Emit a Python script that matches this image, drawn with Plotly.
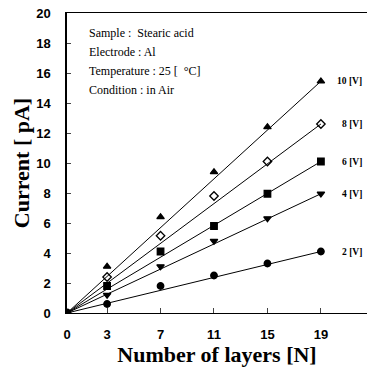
import plotly.graph_objects as go

layers = [3, 7, 11, 15, 19]
x_ticks = [0, 3, 7, 11, 15, 19]
y_ticks = [0, 2, 4, 6, 8, 10, 12, 14, 16, 18, 20]

series_names = ["10 [V]", "8 [V]", "6 [V]", "4 [V]", "2 [V]"]
v10 = [3.1, 6.4, 9.4, 12.4, 15.45]
v8 = [2.4, 5.15, 7.8, 10.1, 12.6]
v6 = [1.8, 4.1, 5.8, 7.95, 10.1]
v4 = [1.2, 3.1, 4.8, 6.3, 7.95]
v2 = [0.6, 1.8, 2.5, 3.3, 4.1]
all_values = [v10, v8, v6, v4, v2]
symbols = ["triangle-up", "diamond-open", "square", "triangle-down", "circle"]

info_lines = ["Sample :  Stearic acid", "Electrode : Al",
              "Temperature : 25 [  \u00b0C]", "Condition : in Air"]

fig = go.Figure()

# fitted lines through origin to last point
for vals in all_values:
    fig.add_trace(go.Scatter(x=[0, layers[-1]], y=[0, vals[-1]], mode="lines",
                             line=dict(color="black", width=1), showlegend=False,
                             hoverinfo="skip"))

for name, vals, sym in zip(series_names, all_values, symbols):
    fig.add_trace(go.Scatter(x=layers, y=vals, mode="markers", name=name,
                             marker=dict(symbol=sym, size=6.5, color="black",
                                         line=dict(color="black", width=1.3)),
                             showlegend=False))

fig.add_trace(go.Scatter(x=[0], y=[0], mode="markers",
                         marker=dict(symbol="circle", size=9, color="black"),
                         showlegend=False))

for name, vals in zip(series_names, all_values):
    fig.add_annotation(x=22.2, y=vals[-1], xref="x", yref="y", text="<b>%s</b>" % name,
                       showarrow=False, xanchor="right", yanchor="middle",
                       font=dict(family="Liberation Serif", size=9.5, color="black"))

plot_l, plot_r, plot_t, plot_b = 67, 367, 13, 313
for i, line in enumerate(info_lines):
    px, py = 87, 33 + 19 * i
    fig.add_annotation(x=(px - plot_l) / (plot_r - plot_l), y=(plot_b - py) / (plot_b - plot_t),
                       xref="x domain", yref="y domain", text=line,
                       showarrow=False, xanchor="left", yanchor="middle",
                       font=dict(family="Liberation Serif", size=12, color="black"))

fig.update_layout(
    width=368, height=367,
    margin=dict(l=67, r=1, t=13, b=54),
    paper_bgcolor="white", plot_bgcolor="white",
    xaxis=dict(range=[0, 22.45], tickvals=x_ticks, ticks="inside", ticklen=5,
               showline=True, linecolor="black", linewidth=1.2, mirror=True,
               showgrid=False, zeroline=False, ticklabelstandoff=9,
               tickfont=dict(family="Liberation Sans", size=13, color="black", weight="bold"),
               title=dict(text="<b>Number of layers [N]</b>", standoff=2,
                          font=dict(family="Liberation Serif", size=22, color="black"))),
    yaxis=dict(range=[0, 20], tickvals=y_ticks, ticks="inside", ticklen=4,
               showline=True, linecolor="black", linewidth=1.5,
               showgrid=False, zeroline=False, ticklabelstandoff=12,
               tickfont=dict(family="Liberation Sans", size=13, color="black", weight="bold"),
               title=dict(text="<b>Current [ pA]</b>", standoff=0,
                          font=dict(family="Liberation Serif", size=22, color="black"))),
)

fig.write_html("out.html")
